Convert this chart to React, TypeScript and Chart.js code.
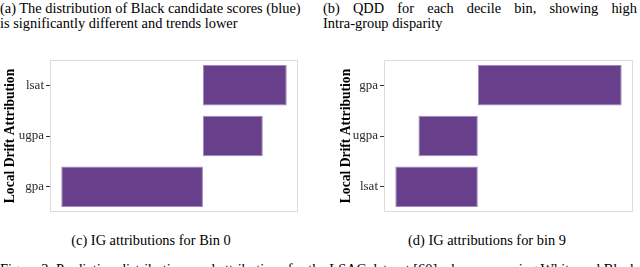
import React, { useEffect, useRef } from 'react';
import { Chart, registerables } from 'chart.js';

Chart.register(...registerables);

// ---- data ----
const binZeroFeatures = ['lsat', 'ugpa', 'gpa'];
const binZeroStart = [0, 0, -1.42];
const binZeroEnd = [0.84, 0.6, 0];

const binNineFeatures = ['gpa', 'ugpa', 'lsat'];
const binNineStart = [0, -0.59, -0.82];
const binNineEnd = [1.43, 0, 0];

const yAxisTitle = 'Local Drift Attribution';
const captionA = ['(a) The distribution of Black candidate scores (blue)', 'is significantly different and trends lower'];
const captionB = ['(b) QDD for each decile bin, showing high', 'Intra-group disparity'];
const captionC = '(c) IG attributions for Bin 0';
const captionD = '(d) IG attributions for bin 9';
const figureCaption =
  'Figure 3: Prediction distributions and attributions for the LSAC dataset [60] when comparing White and Black';

const SERIF = '"Liberation Serif", "Times New Roman", serif';

const boxPlugin = {
  id: 'panelBox',
  afterDraw(chart: any) {
    const { ctx, chartArea } = chart;
    ctx.save();
    ctx.strokeStyle = '#dcdcdc';
    ctx.lineWidth = 1;
    ctx.strokeRect(
      Math.round(chartArea.left) + 0.5,
      Math.round(chartArea.top) + 0.5,
      Math.round(chartArea.right - chartArea.left) - 1,
      Math.round(chartArea.bottom - chartArea.top) - 1
    );
    ctx.restore();
  },
};

type PanelProps = {
  features: string[];
  start: number[];
  end: number[];
  axisWidth: number;
  left: number;
  top: number;
  width: number;
  height: number;
  padRight: number;
};

function Panel(p: PanelProps) {
  const ref = useRef<HTMLCanvasElement | null>(null);
  useEffect(() => {
    if (!ref.current) return;
    const all = [...p.start, ...p.end];
    const lo = Math.min(...all);
    const hi = Math.max(...all);
    const pad = (hi - lo) * 0.05;
    const chart = new Chart(ref.current, {
      type: 'bar',
      data: {
        labels: p.features,
        datasets: [
          {
            data: p.features.map((_, i) => [p.start[i], p.end[i]]) as any,
            backgroundColor: '#673F8B',
            borderColor: '#9E89BA',
            borderWidth: 1,
            borderSkipped: false,
            categoryPercentage: 1,
            barPercentage: 0.8,
          },
        ],
      },
      options: {
        indexAxis: 'y',
        responsive: false,
        maintainAspectRatio: false,
        animation: false,
        layout: { padding: { top: 5, bottom: 5, left: 0, right: p.padRight } },
        plugins: { legend: { display: false }, tooltip: { enabled: false } },
        scales: {
          x: { display: false, min: lo - pad, max: hi + pad },
          y: {
            afterFit: (s: any) => {
              s.width = p.axisWidth;
            },
            ticks: { color: '#2b2b2b', font: { family: SERIF, size: 13 }, padding: 2 },
            grid: { drawOnChartArea: false, drawTicks: true, tickLength: 4, color: '#333', offset: false },
            border: { display: false },
            title: {
              display: true,
              text: yAxisTitle,
              color: '#000',
              font: { family: SERIF, size: 13.6, weight: 'bold' },
              padding: { top: 2, bottom: 0 },
            },
          },
        },
      },
      plugins: [boxPlugin],
    });
    return () => chart.destroy();
  }, []);
  return (
    <canvas
      ref={ref}
      width={p.width}
      height={p.height}
      style={{ position: 'absolute', left: p.left, top: p.top, width: p.width, height: p.height }}
    />
  );
}

const textStyle: React.CSSProperties = {
  position: 'absolute',
  fontFamily: SERIF,
  fontSize: 14.4,
  lineHeight: '15px',
  color: '#000',
  whiteSpace: 'nowrap',
};

export default function App() {
  return (
    <div
      style={{
        position: 'fixed',
        left: 0,
        top: 0,
        width: 640,
        height: 267,
        overflow: 'hidden',
        background: '#fff',
      }}
    >
      <div style={{ ...textStyle, left: 0, top: 1 }}>{captionA[0]}</div>
      <div style={{ ...textStyle, left: 0, top: 16 }}>{captionA[1]}</div>
      <div style={{ ...textStyle, left: 323, top: 1, width: 314, textAlign: 'justify', textAlignLast: 'justify' as any }}>
        {captionB[0]}
      </div>
      <div style={{ ...textStyle, left: 323, top: 16 }}>{captionB[1]}</div>

      <Panel
        features={binZeroFeatures}
        start={binZeroStart}
        end={binZeroEnd}
        axisWidth={50}
        left={0}
        top={50}
        width={300}
        height={172}
        padRight={2}
      />
      <Panel
        features={binNineFeatures}
        start={binNineStart}
        end={binNineEnd}
        axisWidth={48}
        left={336}
        top={50}
        width={300}
        height={172}
        padRight={3}
      />

      <div style={{ ...textStyle, left: 0, width: 302, top: 233, textAlign: 'center' }}>{captionC}</div>
      <div style={{ ...textStyle, left: 336, width: 302, top: 233, textAlign: 'center' }}>{captionD}</div>
      <div style={{ ...textStyle, left: 0, top: 261.5 }}>{figureCaption}</div>
    </div>
  );
}
